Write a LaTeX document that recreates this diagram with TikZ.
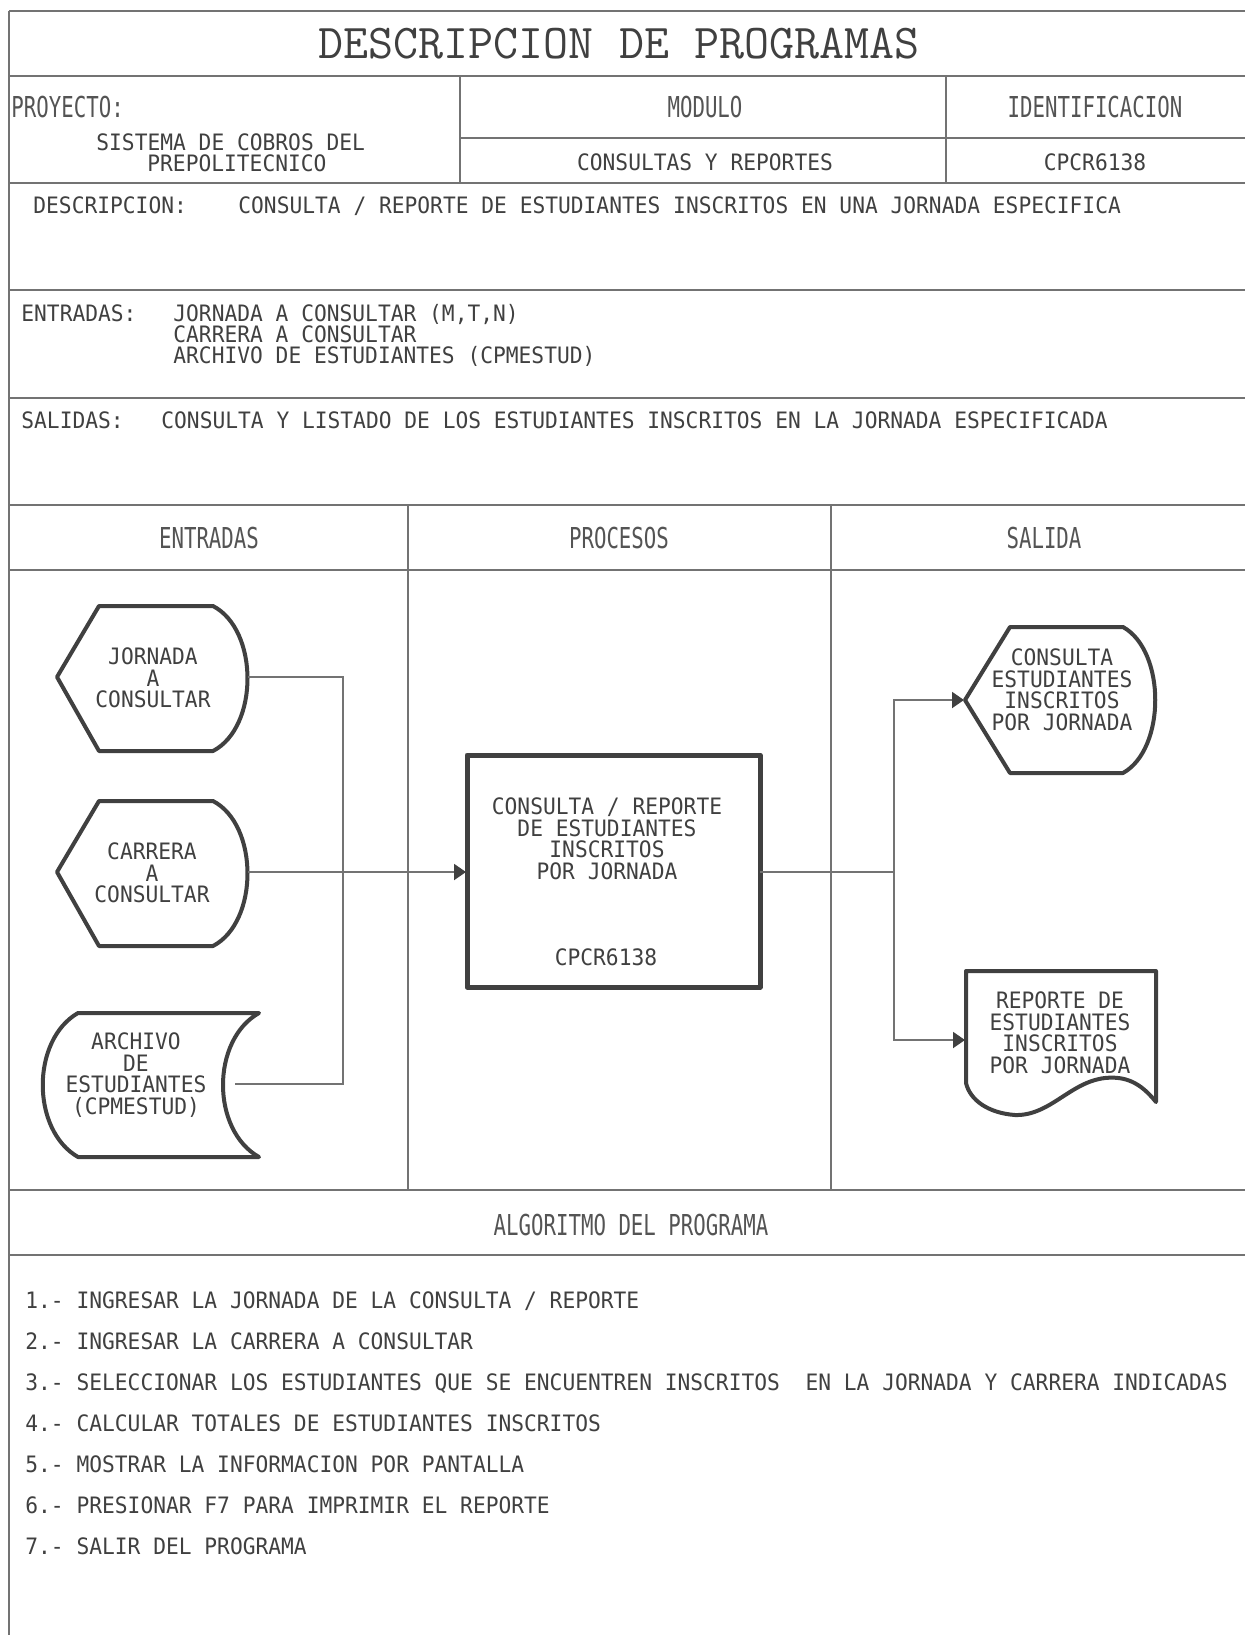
\documentclass[tikz,border=0pt]{standalone}
\usepackage{fontspec}
\newfontfamily\plotfont[FakeStretch=0.94]{DejaVu Sans Mono}
\newfontfamily\headfont[FakeStretch=0.72]{DejaVu Sans Mono}
\usetikzlibrary{arrows.meta}
\definecolor{ink}{gray}{0.25}
\definecolor{headink}{gray}{0.33}
\definecolor{rulecol}{gray}{0.45}
\begin{document}
\begin{tikzpicture}[x=0.5pt,y=-0.5pt,
  rulex/.style={draw=rulecol, line width=1pt},
  sym/.style={draw=ink, line width=2pt, line join=round},
  conn/.style={draw=rulecol, line width=1pt},
  arr/.style={conn, -{Triangle[length=6pt,width=8pt,color=ink]}},
  txt/.style={font=\plotfont\fontsize{11.3}{10.75}\selectfont, text=ink, inner sep=0pt},
  head/.style={font=\headfont\fontsize{14.4}{14}\selectfont, text=headink, inner sep=0pt},
  lbl/.style={txt, anchor=base west},
  ctr/.style={txt, align=center},
]
\useasboundingbox (0,0) rectangle (1245,1635);
\fill[white] (0,0) rectangle (1245,1635);

% ---- frame and rules ----
\draw[rulex] (9,11) -- (1245,11);
\draw[rulex] (9,76) -- (1245,76);
\draw[rulex] (460,138) -- (1245,138);
\draw[rulex] (9,183) -- (1245,183);
\draw[rulex] (9,290) -- (1245,290);
\draw[rulex] (9,398) -- (1245,398);
\draw[rulex] (9,505) -- (1245,505);
\draw[rulex] (9,570) -- (1245,570);
\draw[rulex] (9,1190) -- (1245,1190);
\draw[rulex] (9,1255) -- (1245,1255);
\draw[rulex] (9,11) -- (9,1635);
\draw[rulex] (460,76) -- (460,183);
\draw[rulex] (946,76) -- (946,183);
\draw[rulex] (408,505) -- (408,1190);
\draw[rulex] (831,505) -- (831,1190);

% ---- header ----
\node[font=\ttfamily\fontsize{24.3}{24}\selectfont, text=ink, inner sep=0pt] (title) at (619,44) {DESCRIPCION DE PROGRAMAS};
\node[head, anchor=base west] (proy) at (11,117) {PROYECTO:};
\node[lbl] (proy1) at (96,150) {SISTEMA DE COBROS DEL};
\node[lbl] (proy2) at (147,171) {PREPOLITECNICO};
\node[head] (modh) at (705,107) {MODULO};
\node[head] (idh) at (1095,107) {IDENTIFICACION};
\node[txt] (modv) at (705,162) {CONSULTAS Y REPORTES};
\node[txt] (idv) at (1095,162) {CPCR6138};

\node[lbl] (desch) at (33,213) {DESCRIPCION:};
\node[lbl] (descv) at (238,213) {CONSULTA / REPORTE DE ESTUDIANTES INSCRITOS EN UNA JORNADA ESPECIFICA};

\node[lbl] (enth) at (21,321) {ENTRADAS:};
\node[lbl] (ent1) at (173,321) {JORNADA A CONSULTAR (M,T,N)};
\node[lbl] (ent2) at (173,342) {CARRERA A CONSULTAR};
\node[lbl] (ent3) at (173,363) {ARCHIVO DE ESTUDIANTES (CPMESTUD)};

\node[lbl] (salh) at (21,428) {SALIDAS:};
\node[lbl] (salv) at (161,428) {CONSULTA Y LISTADO DE LOS ESTUDIANTES INSCRITOS EN LA JORNADA ESPECIFICADA};

\node[head] (colA) at (209,538) {ENTRADAS};
\node[head] (colB) at (619,538) {PROCESOS};
\node[head] (colC) at (1044,538) {SALIDA};

% ---- input symbols ----
\draw[sym] (57,677) -- (99,606) -- (213,606) .. controls (259,630) and (259,727) .. (213,751) -- (99,751) -- cycle;
\node[ctr] (jor) at (153,678) {JORNADA\\A\\CONSULTAR};

\draw[sym] (57,872) -- (99,801) -- (213,801) .. controls (259,825) and (259,922) .. (213,946) -- (99,946) -- cycle;
\node[ctr] (car) at (152,873) {CARRERA\\A\\CONSULTAR};

\draw[sym] (78,1013) -- (259,1013) .. controls (211,1040) and (211,1130) .. (259,1157) -- (78,1157) .. controls (31,1130) and (31,1040) .. cycle;
\node[ctr] (arc) at (136,1075) {ARCHIVO\\DE\\ESTUDIANTES\\(CPMESTUD)};

% ---- process ----
\draw[sym, line width=2.5pt] (467,755) rectangle (760,987);
\node[ctr] (proc) at (607,839) {CONSULTA / REPORTE\\DE ESTUDIANTES\\INSCRITOS\\POR JORNADA};
\node[txt] (pcode) at (606,957) {CPCR6138};

% ---- outputs ----
\draw[sym] (965,700) -- (1010,627) -- (1123,627) .. controls (1166,651) and (1166,749) .. (1123,773) -- (1010,773) -- cycle;
\node[ctr] (cons) at (1062,690) {CONSULTA\\ESTUDIANTES\\INSCRITOS\\POR JORNADA};

\draw[sym] (966,971) -- (1156,971) -- (1156,1102)
  .. controls (1140,1082) and (1125,1076) .. (1105,1078)
  .. controls (1070,1082) and (1050,1116) .. (1015,1115)
  .. controls (988,1113) and (970,1100) .. (966,1083) -- cycle;
\node[ctr] (doc) at (1060,1033) {REPORTE DE\\ESTUDIANTES\\INSCRITOS\\POR JORNADA};

% ---- connectors ----
\coordinate (jorR) at (248,677);
\coordinate (carR) at (248,872);
\coordinate (arcR) at (235,1084);
\coordinate (busT) at (343,677);
\coordinate (busB) at (343,1084);
\coordinate (procL) at (466,872);
\coordinate (procR) at (760,872);
\coordinate (busR) at (894,872);
\coordinate (consL) at (964,700);
\coordinate (docL) at (965,1040);

\draw[conn] (jorR) -- (busT) -- (busB) -- (arcR);
\draw[arr] (carR) -- (procL);
\draw[conn] (procR) -- (busR);
\draw[arr] (busR) |- (consL);
\draw[arr] (busR) |- (docL);

% ---- algorithm ----
\node[head] (algh) at (631,1225) {ALGORITMO DEL PROGRAMA};
\node[lbl] (s1) at (25,1308) {1.- INGRESAR LA JORNADA DE LA CONSULTA / REPORTE};
\node[lbl] (s2) at (25,1349) {2.- INGRESAR LA CARRERA A CONSULTAR};
\node[lbl] (s3) at (25,1390) {3.- SELECCIONAR LOS ESTUDIANTES QUE SE ENCUENTREN INSCRITOS\ \ EN LA JORNADA Y CARRERA INDICADAS};
\node[lbl] (s4) at (25,1431) {4.- CALCULAR TOTALES DE ESTUDIANTES INSCRITOS};
\node[lbl] (s5) at (25,1472) {5.- MOSTRAR LA INFORMACION POR PANTALLA};
\node[lbl] (s6) at (25,1513) {6.- PRESIONAR F7 PARA IMPRIMIR EL REPORTE};
\node[lbl] (s7) at (25,1554) {7.- SALIR DEL PROGRAMA};
\end{tikzpicture}
\end{document}
